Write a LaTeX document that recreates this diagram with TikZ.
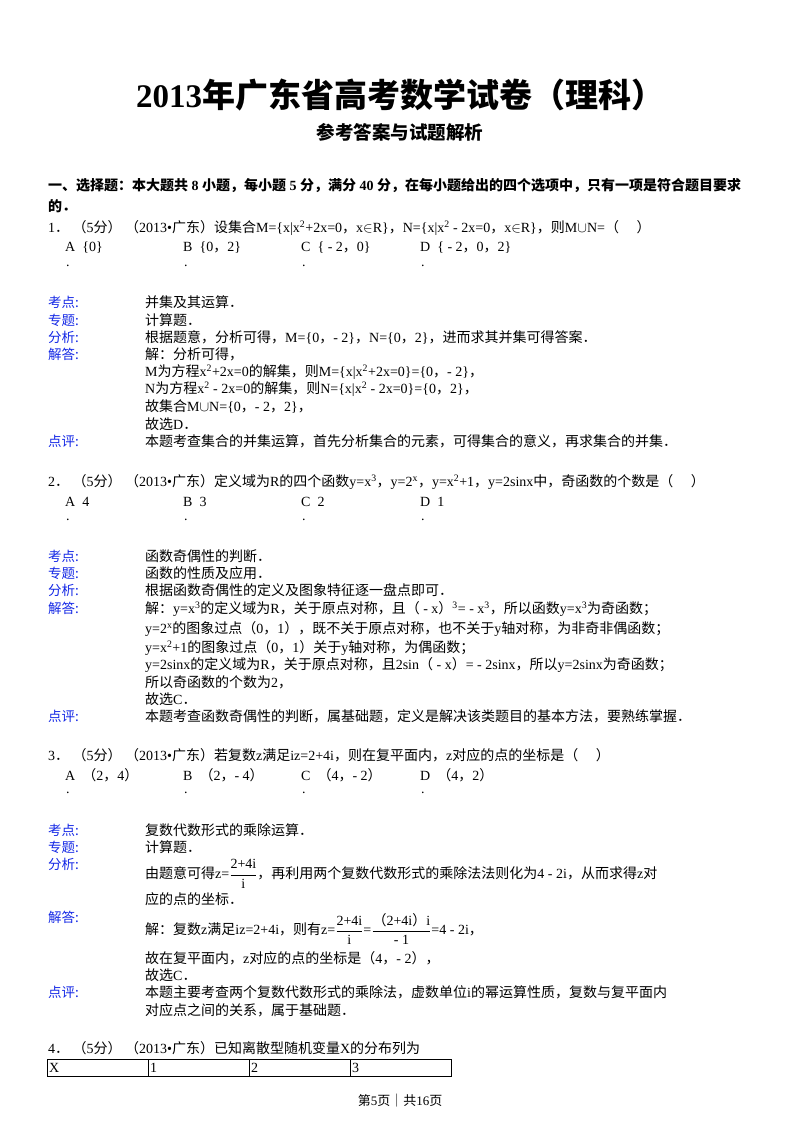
\documentclass[tikz,border=0pt]{standalone}
\usepackage{fontspec}
\setmainfont{Liberation Serif}
\newfontfamily\cjk{Noto Sans CJK SC}
\XeTeXinterchartokenstate=1
\newXeTeXintercharclass\CJKclass
\count255="4E00
\loop\XeTeXcharclass\count255=\CJKclass\advance\count255 1\ifnum\count255<"9FFF\repeat
\count255="3000
\loop\XeTeXcharclass\count255=\CJKclass\advance\count255 1\ifnum\count255<"3040\repeat
\count255="FF00
\loop\XeTeXcharclass\count255=\CJKclass\advance\count255 1\ifnum\count255<"FFF0\repeat
\XeTeXinterchartoks 0 \CJKclass={\begingroup\cjk}
\XeTeXinterchartoks \CJKclass 0={\endgroup}
\XeTeXinterchartoks 4095 \CJKclass={\begingroup\cjk}
\XeTeXinterchartoks \CJKclass 4095={\endgroup}
\definecolor{labblue}{RGB}{20,40,230}
\newcommand{\sups}[1]{\textsuperscript{#1}}
\newcommand{\fr}[2]{$\displaystyle\frac{\hbox{#1}}{\hbox{#2}}$}
\tikzset{tx/.style={anchor=west,inner sep=0pt,font=\fontsize{14pt}{16pt}\selectfont},
 lb/.style={tx,text=labblue,font=\fontsize{13.5pt}{16pt}\selectfont\cjk},
 cell/.style={draw,line width=0.6pt}}
\begin{document}
\begin{tikzpicture}[x=1pt,y=-1pt]
\useasboundingbox (0,0) rectangle (800,1132);
\fill[white] (0,0) rectangle (800,1132);
\node[inner sep=0pt,font=\fontsize{33pt}{36pt}\selectfont\bfseries] (title) at (400,95) {2013年广东省高考数学试卷（理科）};
\node[inner sep=0pt,font=\fontsize{18.5pt}{20pt}\selectfont\bfseries] (sub) at (400,132) {参考答案与试题解析};
\node[tx,font=\fontsize{14pt}{16pt}\selectfont\bfseries] (sec1) at (48,186) {一、选择题：本大题共 8 小题，每小题 5 分，满分 40 分，在每小题给出的四个选项中，只有一项是符合题目要求};
\node[tx,font=\fontsize{14pt}{16pt}\selectfont\bfseries] (sec2) at (48,206) {的．};
% Q1
\node[tx] (q1) at (48,228) {1．\ （5分）\ （2013•广东）设集合M=\{x|x\sups{2}+2x=0，x$\in$R\}，N=\{x|x\sups{2} - 2x=0，x$\in$R\}，则M$\cup$N=（\quad\ ）};
\node[tx] (q1a) at (65,248) {A\ \ \{0\}};
\node[tx] (q1b) at (183,248) {B\ \ \{0，2\}};
\node[tx] (q1c) at (301,248) {C\ \ \{ - 2，0\}};
\node[tx] (q1d) at (420,248) {D\ \ \{ - 2，0，2\}};
\node[tx] (q1ad) at (66,266) {.};\node[tx] (q1bd) at (184,266) {.};\node[tx] (q1cd) at (302,266) {.};\node[tx] (q1dd) at (421,266) {.};
\node[lb] (l11) at (48,302) {考点:};\node[tx] (c11) at (145,302) {并集及其运算．};
\node[lb] (l12) at (48,320) {专题:};\node[tx] (c12) at (145,320) {计算题．};
\node[lb] (l13) at (48,337) {分析:};\node[tx] (c13) at (145,337) {根据题意，分析可得，M=\{0，- 2\}，N=\{0，2\}，进而求其并集可得答案．};
\node[lb] (l14) at (48,354) {解答:};\node[tx] (c14) at (145,354) {解：分析可得，};
\node[tx] (c15) at (145,372) {M为方程x\sups{2}+2x=0的解集，则M=\{x|x\sups{2}+2x=0\}=\{0，- 2\}，};
\node[tx] (c16) at (145,389) {N为方程x\sups{2} - 2x=0的解集，则N=\{x|x\sups{2} - 2x=0\}=\{0，2\}，};
\node[tx] (c17) at (145,407) {故集合M$\cup$N=\{0，- 2，2\}，};
\node[tx] (c18) at (145,424) {故选D．};
\node[lb] (l15) at (48,441) {点评:};\node[tx] (c19) at (145,441) {本题考查集合的并集运算，首先分析集合的元素，可得集合的意义，再求集合的并集．};
% Q2
\node[tx] (q2) at (48,482) {2．\ （5分）\ （2013•广东）定义域为R的四个函数y=x\sups{3}，y=2\sups{x}，y=x\sups{2}+1，y=2sinx中，奇函数的个数是（\quad\ ）};
\node[tx] (q2a) at (65,502) {A\ \ 4};
\node[tx] (q2b) at (183,502) {B\ \ 3};
\node[tx] (q2c) at (301,502) {C\ \ 2};
\node[tx] (q2d) at (420,502) {D\ \ 1};
\node[tx] (q2ad) at (66,520) {.};\node[tx] (q2bd) at (184,520) {.};\node[tx] (q2cd) at (302,520) {.};\node[tx] (q2dd) at (421,520) {.};
\node[lb] (l21) at (48,556) {考点:};\node[tx] (c21) at (145,556) {函数奇偶性的判断．};
\node[lb] (l22) at (48,573) {专题:};\node[tx] (c22) at (145,573) {函数的性质及应用．};
\node[lb] (l23) at (48,590) {分析:};\node[tx] (c23) at (145,590) {根据函数奇偶性的定义及图象特征逐一盘点即可．};
\node[lb] (l24) at (48,608) {解答:};\node[tx] (c24) at (145,609) {解：y=x\sups{3}的定义域为R，关于原点对称，且（ - x）\sups{3}= - x\sups{3}，所以函数y=x\sups{3}为奇函数；};
\node[tx] (c25) at (145,629) {y=2\sups{x}的图象过点（0，1），既不关于原点对称，也不关于y轴对称，为非奇非偶函数；};
\node[tx] (c26) at (145,648) {y=x\sups{2}+1的图象过点（0，1）关于y轴对称，为偶函数；};
\node[tx] (c27) at (145,665) {y=2sinx的定义域为R，关于原点对称，且2sin（ - x）= - 2sinx，所以y=2sinx为奇函数；};
\node[tx] (c28) at (145,682) {所以奇函数的个数为2，};
\node[tx] (c29) at (145,699) {故选C．};
\node[lb] (l25) at (48,716) {点评:};\node[tx] (c2a) at (145,716) {本题考查函数奇偶性的判断，属基础题，定义是解决该类题目的基本方法，要熟练掌握．};
% Q3
\node[tx] (q3) at (48,755) {3．\ （5分）\ （2013•广东）若复数z满足iz=2+4i，则在复平面内，z对应的点的坐标是（\quad\ ）};
\node[tx] (q3a) at (65,775) {A\ \ （2，4）};
\node[tx] (q3b) at (183,775) {B\ \ （2，- 4）};
\node[tx] (q3c) at (301,775) {C\ \ （4，- 2）};
\node[tx] (q3d) at (420,775) {D\ \ （4，2）};
\node[tx] (q3ad) at (66,793) {.};\node[tx] (q3bd) at (184,793) {.};\node[tx] (q3cd) at (302,793) {.};\node[tx] (q3dd) at (421,793) {.};
\node[lb] (l31) at (48,830) {考点:};\node[tx] (c31) at (145,830) {复数代数形式的乘除运算．};
\node[lb] (l32) at (48,847) {专题:};\node[tx] (c32) at (145,847) {计算题．};
\node[lb] (l33) at (48,864) {分析:};\node[tx] (c33) at (145,874) {由题意可得z=\fr{2+4i}{i}，再利用两个复数代数形式的乘除法法则化为4 - 2i，从而求得z对};
\node[tx] (c34) at (145,899) {应的点的坐标．};
\node[lb] (l34) at (48,917) {解答:};\node[tx] (c35) at (145,929) {解：复数z满足iz=2+4i，则有z=\fr{2+4i}{i}=\fr{（2+4i）i}{- 1}=4 - 2i，};
\node[tx] (c36) at (145,958) {故在复平面内，z对应的点的坐标是（4，- 2），};
\node[tx] (c37) at (145,975) {故选C．};
\node[lb] (l35) at (48,992) {点评:};\node[tx] (c38) at (145,992) {本题主要考查两个复数代数形式的乘除法，虚数单位i的幂运算性质，复数与复平面内};
\node[tx] (c39) at (145,1010) {对应点之间的关系，属于基础题．};
% Q4
\node[tx] (q4) at (48,1048) {4．\ （5分）\ （2013•广东）已知离散型随机变量X的分布列为};
\draw[cell] (47,1059) rectangle (148,1076);
\draw[cell] (148,1059) rectangle (249,1076);
\draw[cell] (249,1059) rectangle (350,1076);
\draw[cell] (350,1059) rectangle (451,1076);
\node[tx] (t1) at (49,1068) {X};\node[tx] (t2) at (150,1068) {1};\node[tx] (t3) at (251,1068) {2};\node[tx] (t4) at (352,1068) {3};
\node[inner sep=0pt,font=\fontsize{13pt}{15pt}\selectfont] (foot) at (400,1101) {第5页｜共16页};
\end{tikzpicture}
\end{document}
